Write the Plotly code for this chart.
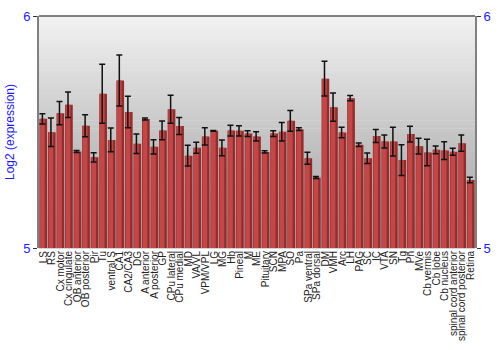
import plotly.graph_objects as go

categories = ["LS", "RS", "Cx motor", "Cx cingulate", "OB anterior", "OB posterior", "Pir", "Tu",
              "ventral S", "CA1", "CA2/CA3", "DG", "A anterior", "A posterior", "GP", "CPu lateral",
              "CPu medial", "MD", "VA/VL", "VPM/VPL", "LG", "MG", "Hb", "Pineal", "M", "ME",
              "Pituitary", "SCN", "MPA", "SO", "Pa", "SPa ventral", "SPa dorsal", "DM", "VMH", "Arc",
              "LH", "PAG", "SC", "IC", "VTA", "SN", "Tg", "Pn", "MVe", "Cb vermis", "Cb lobe",
              "Cb nucleus", "spinal cord anterior", "spinal cord posterior", "Retina"]

values = [5.557, 5.499, 5.581, 5.617, 5.416, 5.527, 5.391, 5.665,
          5.466, 5.722, 5.586, 5.449, 5.556, 5.436, 5.507, 5.598,
          5.526, 5.398, 5.432, 5.481, 5.505, 5.432, 5.506, 5.505, 5.493, 5.481,
          5.414, 5.493, 5.501, 5.548, 5.512, 5.387, 5.304, 5.730, 5.607, 5.498,
          5.646, 5.445, 5.387, 5.483, 5.459, 5.459, 5.379, 5.491, 5.439, 5.412, 5.423,
          5.420, 5.415, 5.452, 5.293]

errors = [0.022, 0.061, 0.050, 0.055, 0.004, 0.047, 0.020, 0.127,
          0.051, 0.110, 0.068, 0.042, 0.004, 0.031, 0.040, 0.060,
          0.037, 0.045, 0.024, 0.037, 0.002, 0.034, 0.023, 0.022, 0.012, 0.020,
          0.005, 0.012, 0.040, 0.045, 0.006, 0.026, 0.004, 0.075, 0.061, 0.023,
          0.011, 0.008, 0.023, 0.028, 0.028, 0.062, 0.066, 0.034, 0.034, 0.057, 0.017,
          0.038, 0.015, 0.035, 0.012]

y_ticks = [5, 6]
y_range = [5, 6]

fig = go.Figure()

# dark outer bar
fig.add_trace(go.Bar(x=categories, y=values, marker=dict(color="#932c2c", line=dict(width=0)),
                     width=0.9, hoverinfo="skip", showlegend=False))
# lighter inner bar
fig.add_trace(go.Bar(x=categories, y=values, marker=dict(color="#c44646", line=dict(width=0)),
                     width=0.55, offset=-0.38, showlegend=False,
                     error_y=dict(type="data", array=errors, visible=True, color="#111111",
                                  thickness=1.5, width=3)))

# gradient background bands
n = 60
top = (242, 242, 242)
mid = (190, 190, 190)
bot = (168, 168, 168)
shapes = []
for i in range(n):
    t = i / (n - 1)
    if t < 0.6:
        u = t / 0.6
        c = tuple(int(top[k] + (mid[k] - top[k]) * u) for k in range(3))
    else:
        u = (t - 0.6) / 0.4
        c = tuple(int(mid[k] + (bot[k] - mid[k]) * u) for k in range(3))
    y1 = 1 - i / n
    y0 = 1 - (i + 1) / n
    shapes.append(dict(type="rect", xref="paper", yref="paper", x0=0, x1=1, y0=y0 - 0.002, y1=y1,
                       fillcolor="rgb(%d,%d,%d)" % c, line=dict(width=0), layer="below"))
shapes.append(dict(type="line", xref="paper", yref="paper", x0=0, x1=1, y0=1, y1=1,
                   line=dict(color="#808080", width=2)))

fig.update_layout(
    width=500, height=350,
    margin=dict(l=28, r=13, t=9, b=100),
    paper_bgcolor="white",
    plot_bgcolor="rgba(0,0,0,0)",
    barmode="overlay",
    shapes=shapes,
    font=dict(family="Liberation Sans, Arial, sans-serif"),
    xaxis=dict(tickangle=-90, tickfont=dict(size=10, color="#222222"), showgrid=False,
               tickmode="array", tickvals=categories, ticktext=categories,
               ticks="", showline=False, range=[-0.5, len(categories) - 0.5]),
    yaxis=dict(range=y_range, tickvals=y_ticks, ticktext=[str(v) for v in y_ticks],
               tickfont=dict(size=13, color="#1a1aff"), showgrid=False, zeroline=False,
               showline=True, linecolor="#808080", linewidth=2, ticks="outside", ticklen=4,
               tickcolor="#333333", mirror=False,
               title=dict(text="Log2 (expression)", font=dict(size=12, color="#1a1aff"), standoff=6)),
    yaxis2=dict(range=y_range, tickvals=y_ticks, ticktext=[str(v) for v in y_ticks],
                tickfont=dict(size=13, color="#1a1aff"), overlaying="y", side="right",
                showgrid=False, zeroline=False, showline=True, linecolor="#808080", linewidth=2,
                ticks="outside", ticklen=4, tickcolor="#333333"),
)
fig.add_trace(go.Scatter(x=[categories[0]], y=[None], yaxis="y2", showlegend=False, hoverinfo="skip"))

fig.write_html("out.html")
